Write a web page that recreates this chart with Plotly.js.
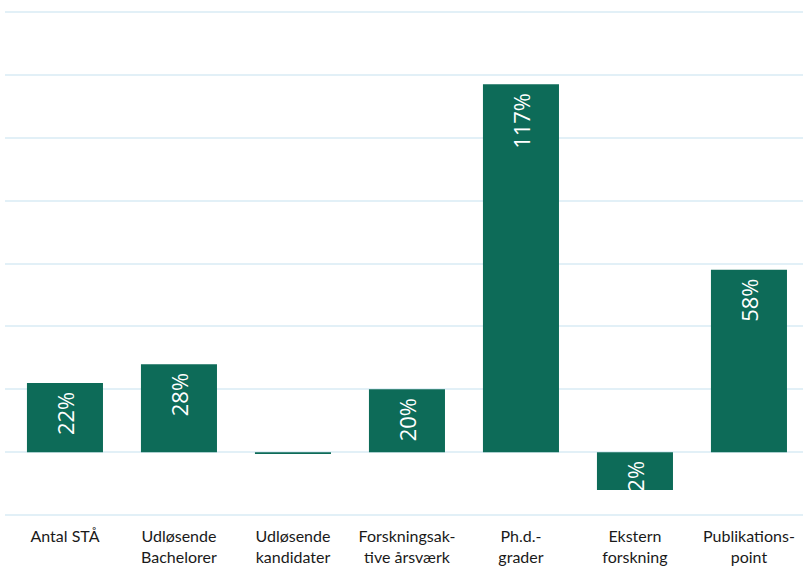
<!DOCTYPE html>
<html>
<head>
<meta charset="utf-8">
<script src="https://cdn.plot.ly/plotly-3.0.1.min.js"></script>
<style>html,body{margin:0;padding:0;background:#fff;}#chart{width:803px;height:567px;}</style>
</head>
<body>
<div id="chart"></div>
<script>
const categories = ["Antal STÅ", "Udløsende<br>Bachelorer", "Udløsende<br>kandidater", "Forskningsak-<br>tive årsværk", "Ph.d.-<br>grader", "Ekstern<br>forskning", "Publikations-<br>point"];
const values = [22, 28, -0.6, 20, 117, -12, 58];
const labels = ["22%", "28%", "", "20%", "117%", "-12%", "58%"];

const barColor = "#0d6b58";
const posVals = values.map(v => v >= 0 ? v : null);
const negVals = values.map(v => v < 0 ? v : null);
const posText = labels.map((t, i) => values[i] >= 0 ? t : "");
const negText = labels.map((t, i) => values[i] < 0 ? t : "");

const common = {
  type: "bar",
  x: categories,
  marker: {color: barColor},
  textposition: "inside",
  textangle: -90,
  constraintext: "none",
  textfont: {family: "Open Sans, sans-serif", size: 22, color: "#ffffff"},
  hoverinfo: "none",
  cliponaxis: false
};

const traces = [
  Object.assign({}, common, {y: posVals, text: posText, texttemplate: "%{text}\u00a0", insidetextanchor: "end"}),
  Object.assign({}, common, {y: negVals, text: negText, texttemplate: "%{text}\u00a0", insidetextanchor: "start"})
];

const layout = {
  width: 803, height: 567,
  margin: {l: 5, r: 0, t: 10, b: 50},
  paper_bgcolor: "#ffffff",
  plot_bgcolor: "#ffffff",
  showlegend: false,
  barmode: "overlay",
  bargap: 0.333,
  xaxis: {
    range: [-0.526, 6.474],
    tickfont: {family: "Lato, sans-serif", size: 16, color: "#1a1a1a"},
    ticklabelstandoff: 8,
    showgrid: false, zeroline: false, showline: false, ticks: "", fixedrange: true
  },
  yaxis: {
    range: [-20.6, 140.6], dtick: 20, tick0: 0,
    showticklabels: false, gridcolor: "#e2f0f7", gridwidth: 2,
    zeroline: false, showline: false, ticks: "", fixedrange: true
  }
};

Plotly.newPlot("chart", traces, layout, {displayModeBar: false, staticPlot: true});
</script>
</body>
</html>
